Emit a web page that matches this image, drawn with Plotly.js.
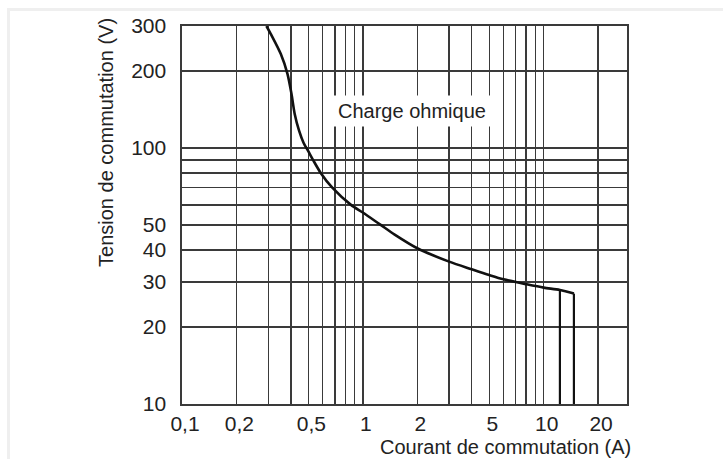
<!DOCTYPE html>
<html>
<head>
<meta charset="utf-8">
<script src="https://cdn.plot.ly/plotly-3.0.1.min.js"></script>
<style>
  html, body { margin: 0; padding: 0; background: #ffffff; }
  #frame { position: absolute; left: 7px; top: 8px; width: 716px; height: 451px;
           border-top: 3px solid #efefef; border-left: 3px solid #efefef; box-sizing: border-box; }
  #chart { position: absolute; left: 0; top: 0; width: 723px; height: 459px; }
</style>
</head>
<body>
<div id="frame"></div>
<div id="chart"></div>
<script>
// ---- data ----
// limit curve, resistive load (current A, voltage V)
const curveCurrent = [0.293, 0.31, 0.352, 0.383, 0.403, 0.42, 0.444, 0.47, 0.50, 0.53, 0.585, 0.678, 0.86, 1.0, 1.25, 1.5, 2.0, 3.0, 4.0, 5.0, 6.0, 8.0, 10.0, 12.3, 14.7];
const curveVoltage = [300, 279, 233, 195, 163, 136, 117, 105, 97, 90, 80, 70, 60, 56, 50.2, 45.9, 40.6, 36.0, 33.6, 31.9, 30.7, 29.4, 28.5, 27.9, 27.0];
// vertical end legs
const legCurrent = [12.3, 14.7];
const legTopVoltage = [27.9, 27.0];
const legBottomVoltage = 10;

// axis ticks / grid
const xTickVals = [0.1, 0.2, 0.5, 1, 2, 5, 10, 20];
const xTickText = ['0,1', '0,2', '0,5', '1', '2', '5', '10', '20'];
const xGridVals = [0.2, 0.3, 0.4, 0.5, 0.6, 0.7, 0.8, 0.9, 1, 2, 3, 4, 5, 6, 7, 8, 9, 10, 20];
const yTickVals = [10, 20, 30, 40, 50, 100, 200, 300];
const yTickText = ['10', '20', '30', '40', '50', '100', '200', '300'];
const yGridVals = [20, 30, 40, 50, 60, 70, 80, 90, 100, 200];

const xRange = [0.1, 28.9];
const yRange = [10, 300];

const labelText = 'Charge ohmique';
const labelAt = [1.88, 140];
const xTitle = 'Courant de commutation (A)';
const yTitle = 'Tension de commutation (V)';

// ---- build ----
function mergeTicks(gridVals, tickVals, tickText) {
  const all = Array.from(new Set(gridVals.concat(tickVals))).sort((a, b) => a - b);
  const txt = all.map(v => { const i = tickVals.indexOf(v); return i >= 0 ? tickText[i] : ''; });
  return { vals: all, text: txt };
}
const xm = mergeTicks(xGridVals, xTickVals, xTickText);
const ym = mergeTicks(yGridVals, yTickVals, yTickText);

const lineColor = '#3a3a3a';
const tickFont = { family: '"Liberation Sans", Arial, sans-serif', size: 21, color: '#222222' };
const titleFont = { family: '"Liberation Sans", Arial, sans-serif', size: 20, color: '#222222' };

const traces = [{
  x: curveCurrent, y: curveVoltage, type: 'scatter', mode: 'lines',
  line: { color: '#111111', width: 2.6, shape: 'spline', smoothing: 0.8 },
  hoverinfo: 'skip', showlegend: false
}];
legCurrent.forEach((c, i) => {
  traces.push({
    x: [c, c], y: [legTopVoltage[i], legBottomVoltage], type: 'scatter', mode: 'lines',
    line: { color: '#111111', width: 2.2 }, hoverinfo: 'skip', showlegend: false
  });
});

const layout = {
  width: 723, height: 459,
  margin: { l: 182, r: 96, t: 26, b: 55 },
  paper_bgcolor: 'rgba(0,0,0,0)', plot_bgcolor: '#ffffff',
  showlegend: false,
  xaxis: {
    type: 'log', range: [Math.log10(xRange[0]), Math.log10(xRange[1])],
    tickmode: 'array', tickvals: xm.vals, ticktext: xm.text,
    showgrid: true, gridcolor: lineColor, gridwidth: 1.4,
    showline: true, linecolor: lineColor, linewidth: 1.6, mirror: true,
    ticks: '', tickfont: tickFont, zeroline: false, ticklabelshift: 3
  },
  yaxis: {
    type: 'log', range: [Math.log10(yRange[0]), Math.log10(yRange[1])],
    tickmode: 'array', tickvals: ym.vals, ticktext: ym.text,
    showgrid: true, gridcolor: lineColor, gridwidth: 1.4,
    showline: true, linecolor: lineColor, linewidth: 1.6, mirror: true,
    ticks: '', tickfont: tickFont, zeroline: false, ticklabelstandoff: 10
  },
  annotations: [
    { x: Math.log10(labelAt[0]), y: Math.log10(labelAt[1]), xref: 'x', yref: 'y',
      text: labelText, showarrow: false, font: titleFont, bgcolor: '#ffffff',
      borderpad: 4, xanchor: 'center', yanchor: 'middle' },
    { x: 1.013, y: -0.113, xref: 'paper', yref: 'paper', text: xTitle, showarrow: false,
      font: titleFont, xanchor: 'right', yanchor: 'middle' },
    { x: -0.171, y: 0.693, xref: 'paper', yref: 'paper', text: yTitle, showarrow: false,
      font: titleFont, textangle: -90, xanchor: 'center', yanchor: 'middle' }
  ]
};

Plotly.newPlot('chart', traces, layout, { staticPlot: true, displayModeBar: false });
</script>
</body>
</html>
